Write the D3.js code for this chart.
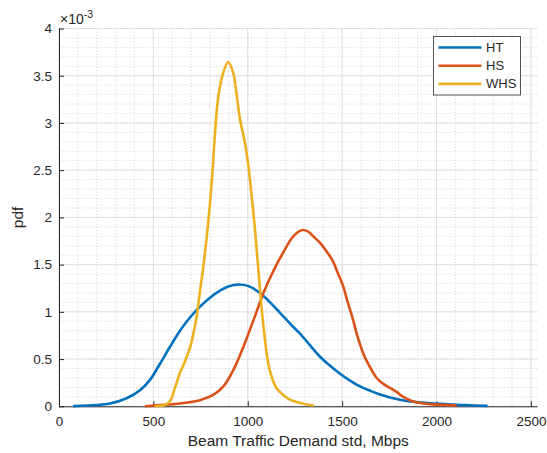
<!DOCTYPE html>
<html>
<head>
<meta charset="utf-8">
<script src="https://cdn.jsdelivr.net/npm/d3@7"></script>
<style>
  html, body { margin: 0; padding: 0; background: #fff; }
  svg { display: block; }
  text { font-family: "Liberation Sans", Arial, Helvetica, sans-serif; fill: #262626; }
</style>
</head>
<body>
<svg id="chart" width="547" height="453"></svg>
<script>
// ---- data (pdf values in units of 1e-3) ----
const seriesNames = ["HT", "HS", "WHS"];
const seriesColors = ["#0072BD", "#D95319", "#EDB120"];

const htX = [75, 150, 270, 358, 429, 482, 535, 588, 641, 694, 747, 800, 853, 900, 950, 1000, 1065, 1118, 1171, 1241, 1277, 1330, 1383, 1430, 1489, 1540, 1595, 1650, 1701, 1750, 1806, 1877, 1950, 2054, 2150, 2270];
const htY = [0.002, 0.008, 0.03, 0.085, 0.17, 0.28, 0.45, 0.63, 0.8, 0.94, 1.055, 1.15, 1.225, 1.27, 1.29, 1.275, 1.2, 1.1, 0.99, 0.84, 0.77, 0.645, 0.525, 0.44, 0.345, 0.275, 0.21, 0.163, 0.125, 0.095, 0.07, 0.048, 0.035, 0.022, 0.012, 0.004];

const hsX = [455, 535, 641, 747, 817, 871, 924, 977, 1030, 1083, 1135, 1188, 1241, 1286, 1320, 1347, 1383, 1418, 1453, 1471, 1506, 1524, 1559, 1577, 1612, 1630, 1683, 1720, 1753, 1790, 1824, 1877, 1930, 1983, 2107];
const hsY = [0.0, 0.012, 0.03, 0.065, 0.12, 0.21, 0.385, 0.63, 0.91, 1.2, 1.43, 1.63, 1.8, 1.865, 1.85, 1.8, 1.73, 1.64, 1.53, 1.44, 1.27, 1.14, 0.91, 0.77, 0.56, 0.48, 0.3, 0.235, 0.195, 0.15, 0.1, 0.05, 0.03, 0.02, 0.008];

const whsX = [508, 540, 560, 590, 615, 640, 660, 694, 715, 730, 747, 765, 782, 800, 817, 826, 844, 870, 897, 923, 941, 959, 985, 1003, 1021, 1038, 1056, 1083, 1109, 1130, 1150, 1188, 1224, 1259, 1300, 1351];
const whsY = [0.0, 0.005, 0.012, 0.06, 0.2, 0.35, 0.44, 0.62, 0.8, 0.96, 1.22, 1.48, 1.78, 2.15, 2.6, 2.88, 3.28, 3.53, 3.645, 3.53, 3.3, 3.04, 2.79, 2.55, 2.22, 1.88, 1.45, 0.85, 0.45, 0.29, 0.2, 0.12, 0.07, 0.045, 0.025, 0.008];

const xTicks = [0, 500, 1000, 1500, 2000, 2500];
const yTicks = [0, 0.5, 1, 1.5, 2, 2.5, 3, 3.5, 4];
const xMinor = d3.range(0, 2501, 100);
const yMinor = d3.range(0, 4.001, 0.1);

const xLabel = "Beam Traffic Demand std, Mbps";
const yLabel = "pdf";

// ---- layout ----
const L = 59, R = 537.5, T = 28.5, B = 406.3;
const x = d3.scaleLinear().domain([0, 2535]).range([L, R]);
const y = d3.scaleLinear().domain([0, 4]).range([B, T]);

const svg = d3.select("#chart");

// minor grid
const g = svg.append("g");
g.selectAll(".vminor").data(xMinor).enter().append("line")
  .attr("x1", d => x(d)).attr("x2", d => x(d)).attr("y1", T).attr("y2", B)
  .attr("stroke", "#c8c8c8").attr("stroke-width", 0.8).attr("stroke-dasharray", "1,2.2");
g.selectAll(".hminor").data(yMinor).enter().append("line")
  .attr("y1", d => y(d)).attr("y2", d => y(d)).attr("x1", L).attr("x2", R)
  .attr("stroke", "#c8c8c8").attr("stroke-width", 0.8).attr("stroke-dasharray", "1,2.2");

// major grid
g.selectAll(".vmajor").data(xTicks).enter().append("line")
  .attr("x1", d => x(d)).attr("x2", d => x(d)).attr("y1", T).attr("y2", B)
  .attr("stroke", "#e0e0e0").attr("stroke-width", 1);
g.selectAll(".hmajor").data(yTicks).enter().append("line")
  .attr("y1", d => y(d)).attr("y2", d => y(d)).attr("x1", L).attr("x2", R)
  .attr("stroke", "#e0e0e0").attr("stroke-width", 1);

// axes
const xAxis = d3.axisBottom(x).tickValues(xTicks).tickSize(-5).tickPadding(10).tickFormat(d3.format("d"));
const yAxis = d3.axisLeft(y).tickValues(yTicks).tickSize(-5).tickPadding(7).tickFormat(d => String(d));

const gx = svg.append("g").attr("transform", `translate(0,${B})`).call(xAxis);
const gy = svg.append("g").attr("transform", `translate(${L},0)`).call(yAxis);
[gx, gy].forEach(a => {
  a.select(".domain").attr("stroke", "#262626").attr("stroke-width", 1);
  a.selectAll(".tick line").attr("stroke", "#262626");
  a.selectAll(".tick text").attr("fill", "#262626")
    .style("font-family", "'Liberation Sans', Arial, sans-serif").style("font-size", "13.5px");
});
gx.select(".domain").attr("d", `M${L},0.5H${R}`);
gy.select(".domain").attr("d", `M0.5,${B}V${T}`);

// lines
const series = [
  { name: seriesNames[0], xs: htX, ys: htY, color: seriesColors[0] },
  { name: seriesNames[1], xs: hsX, ys: hsY, color: seriesColors[1] },
  { name: seriesNames[2], xs: whsX, ys: whsY, color: seriesColors[2] }
];
const line = d3.line().x(d => x(d[0])).y(d => y(Math.max(0, d[1]))).curve(d3.curveCatmullRom.alpha(0.5));
series.forEach(s => {
  svg.append("path")
    .datum(s.xs.map((v, i) => [v, s.ys[i]]))
    .attr("d", line)
    .attr("fill", "none")
    .attr("stroke", s.color)
    .attr("stroke-width", 2.6)
    .attr("stroke-linejoin", "round");
});

// exponent label
const ex = svg.append("text").attr("x", 60).attr("y", 24).style("font-size", "14px");
ex.append("tspan").text("\u00d710");
ex.append("tspan").attr("dy", -6).style("font-size", "10.5px").text("-3");

// axis labels
svg.append("text").attr("x", (L + R) / 2).attr("y", 446).attr("text-anchor", "middle")
  .style("font-size", "15.5px").text(xLabel);
svg.append("text").attr("transform", `translate(23,${(T + B) / 2}) rotate(-90)`)
  .attr("text-anchor", "middle").style("font-size", "15.5px").text(yLabel);

// legend
const lg = svg.append("g");
lg.append("rect").attr("x", 433.5).attr("y", 36.5).attr("width", 87).attr("height", 58.5)
  .attr("fill", "#fff").attr("stroke", "#404040").attr("stroke-width", 0.9);
series.forEach((s, i) => {
  const yy = 47.5 + i * 18.2;
  lg.append("line").attr("x1", 438.5).attr("x2", 481.5).attr("y1", yy).attr("y2", yy)
    .attr("stroke", s.color).attr("stroke-width", 2.6);
  lg.append("text").attr("x", 486).attr("y", yy).attr("dy", "0.35em")
    .style("font-size", "13px").text(s.name);
});
</script>
</body>
</html>
